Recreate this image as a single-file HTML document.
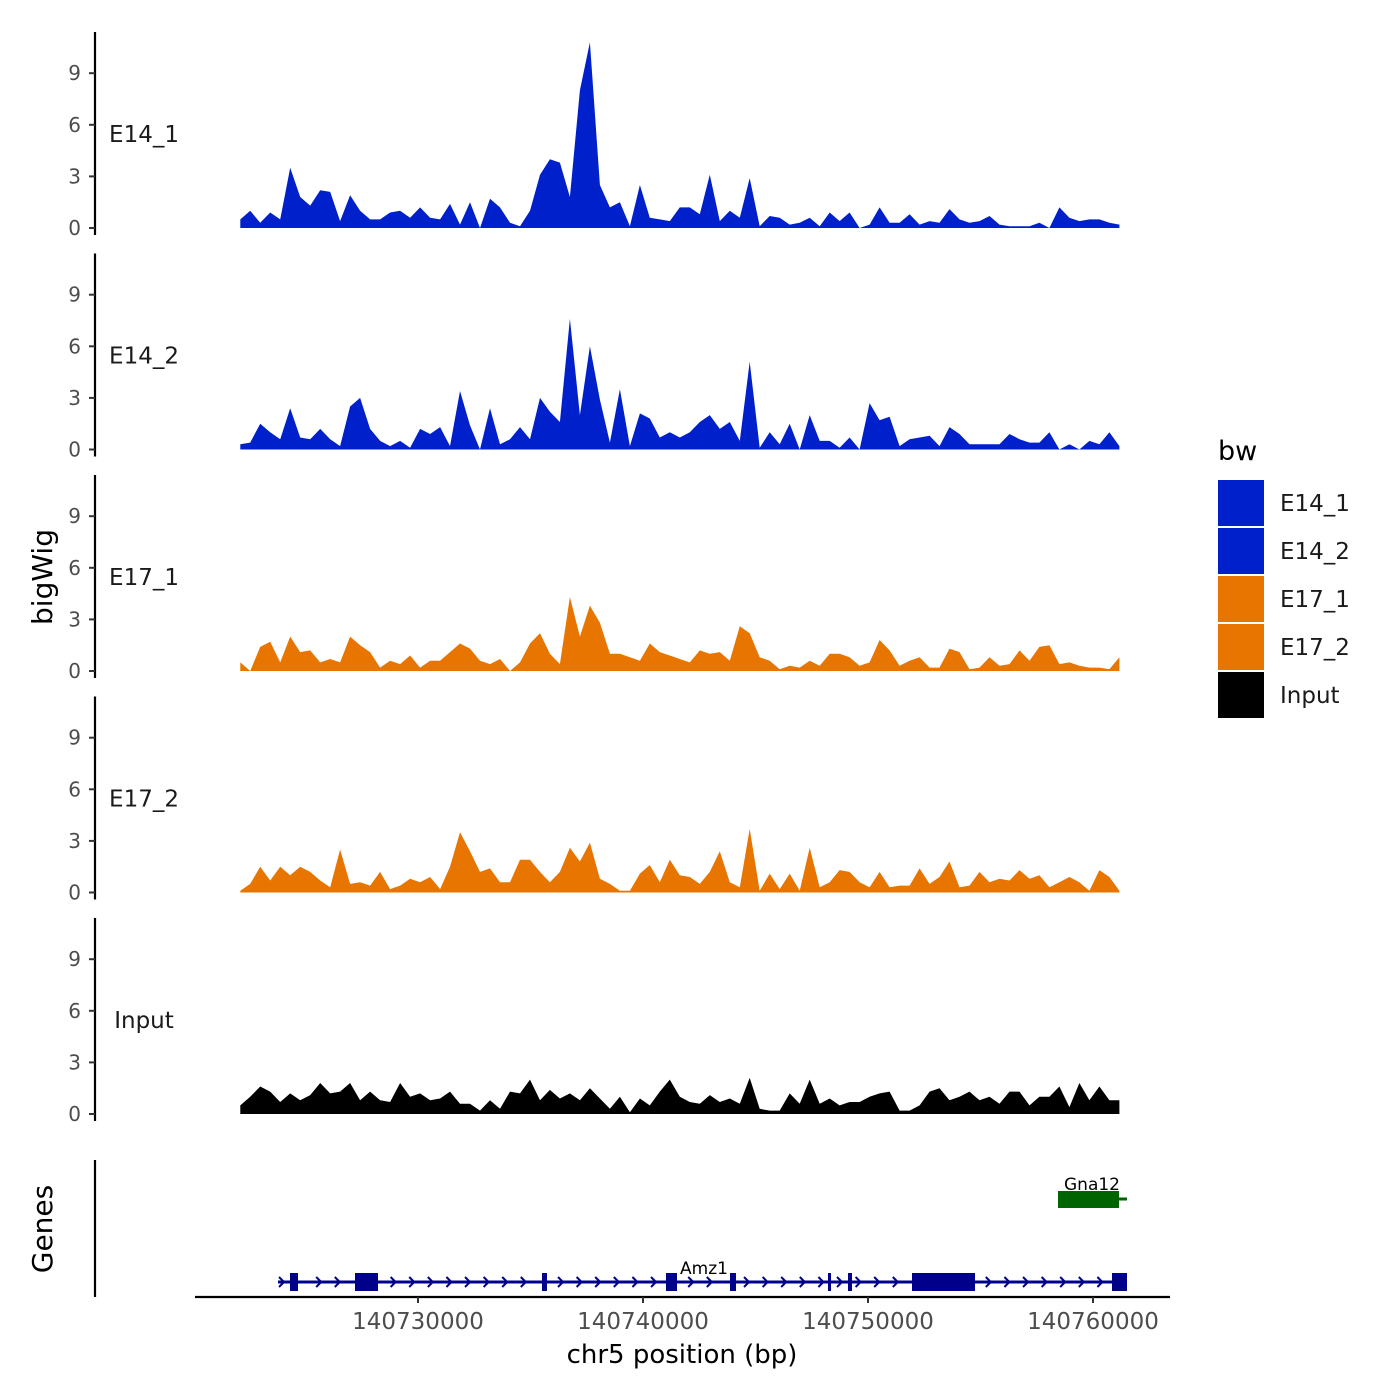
<!DOCTYPE html>
<html><head><meta charset="utf-8"><style>
html,body{margin:0;padding:0;background:#fff}
svg{display:block}
text{font-family:"DejaVu Sans","Liberation Sans",sans-serif}
</style></head><body>
<svg id="chart" width="1400" height="1400" viewBox="0 0 1400 1400" xmlns="http://www.w3.org/2000/svg">
<g id="panels"></g>
<g id="genes"></g>
<g id="xaxis"></g>
<text x="52" y="577" font-size="28" text-anchor="middle" transform="rotate(-90 52 577)" fill="#000">bigWig</text>
<text x="52" y="1229" font-size="28" text-anchor="middle" transform="rotate(-90 52 1229)" fill="#000">Genes</text>
<text x="682" y="1363" font-size="26" text-anchor="middle" fill="#000">chr5 position (bp)</text>
<g id="legend"></g>
</svg>
<script>
const trackNames = ["E14_1","E14_2","E17_1","E17_2","Input"];
const trackColors = ["#0020CC","#0020CC","#E87500","#E87500","#000000"];
const yTicks = [0,3,6,9];
const xTicks = [140730000,140740000,140750000,140760000];
const binStart = 140722100;
const binSize = 444;
const e14_1 = [0.5,1.0,0.3,0.9,0.5,3.5,1.8,1.3,2.2,2.1,0.4,1.9,1.0,0.5,0.5,0.9,1.0,0.6,1.2,0.6,0.5,1.4,0.2,1.5,0,1.7,1.2,0.3,0.1,1.0,3.1,4.0,3.8,1.8,8.0,10.8,2.5,1.2,1.5,0.1,2.5,0.6,0.5,0.4,1.2,
 1.2,0.8,3.1,0.4,1.0,0.6,2.9,0.1,0.7,0.6,0.2,0.3,0.6,0.1,0.9,0.4,0.9,0,0.2,1.2,0.3,0.3,0.8,0.2,0.4,0.3,1.1,0.5,0.3,0.4,0.7,0.2,0.1,0.1,0.1,0.3,0,1.2,0.6,0.4,0.5,0.5,0.3,0.2];
const e14_2 = [0.3,0.4,1.5,1.0,0.6,2.4,0.7,0.6,1.2,0.6,0.2,2.5,3.0,1.2,0.5,0.2,0.5,0.1,1.2,0.9,1.3,0.2,3.4,1.4,0,2.4,0.3,0.6,1.3,0.6,3.0,2.2,1.6,7.6,2.0,6.0,2.9,0.4,3.5,0.2,2.1,1.8,0.7,1.0,0.7,
 1.0,1.6,2.0,1.2,1.6,0.5,5.1,0.1,1.0,0.3,1.5,0,2.0,0.5,0.5,0.1,0.7,0,2.7,1.7,1.9,0.2,0.6,0.7,0.8,0.2,1.3,0.9,0.3,0.3,0.3,0.3,0.9,0.6,0.4,0.4,1.0,0,0.3,0.0,0.5,0.3,1.0,0.2];
const e17_1 = [0.5,0,1.4,1.7,0.5,2.0,1.1,1.2,0.5,0.7,0.5,2.0,1.5,1.1,0.2,0.6,0.4,0.9,0.2,0.6,0.6,1.1,1.6,1.3,0.6,0.4,0.7,0,0.5,1.6,2.2,1.0,0.4,4.3,2.0,3.8,2.8,1.0,1.0,0.8,0.6,1.6,1.1,0.9,0.7,
 0.5,1.2,1.0,1.1,0.6,2.6,2.2,0.8,0.6,0.1,0.3,0.2,0.6,0.3,1.0,1.0,0.8,0.3,0.5,1.8,1.2,0.3,0.6,0.8,0.2,0.2,1.3,1.1,0.1,0.2,0.8,0.3,0.4,1.2,0.6,1.4,1.5,0.4,0.5,0.3,0.2,0.2,0.1,0.8];
const e17_2 = [0.1,0.5,1.5,0.7,1.5,1.0,1.5,1.2,0.7,0.3,2.5,0.5,0.6,0.4,1.2,0.2,0.4,0.8,0.6,0.9,0.2,1.5,3.5,2.4,1.2,1.4,0.6,0.6,1.9,1.9,1.2,0.6,1.2,2.6,1.8,2.9,0.8,0.5,0.1,0.1,1.1,1.6,0.6,1.9,1.0,
 0.9,0.5,1.2,2.4,0.6,0.3,3.7,0.1,1.1,0.2,1.1,0.1,2.6,0.3,0.6,1.3,1.2,0.6,0.3,1.2,0.3,0.4,0.4,1.4,0.5,0.9,1.8,0.3,0.4,1.2,0.6,0.8,0.7,1.3,0.8,1.0,0.3,0.6,0.9,0.6,0.1,1.3,0.9,0.1];
const input = [0.5,1.0,1.6,1.3,0.7,1.2,0.8,1.1,1.8,1.2,1.3,1.8,0.8,1.3,0.8,0.7,1.8,1.0,1.2,0.8,0.9,1.3,0.6,0.6,0.2,0.8,0.3,1.3,1.2,2.0,0.8,1.4,0.9,1.2,0.8,1.5,0.9,0.3,1.0,0.1,0.9,0.5,1.3,2.0,1.0,
 0.7,0.6,1.1,0.7,0.9,0.6,2.1,0.3,0.2,0.2,1.2,0.6,2.0,0.6,0.9,0.5,0.7,0.7,1.0,1.2,1.3,0.2,0.2,0.5,1.3,1.5,0.8,1.0,1.3,0.8,1.0,0.6,1.3,1.3,0.5,1.0,1.0,1.6,0.4,1.8,0.8,1.6,0.8,0.8];
const trackValues = [e14_1,e14_2,e17_1,e17_2,input];
const amz1Start = 140723778, amz1End = 140761511;
const amz1ExonStarts = [140724311,140727200,140735511,140741022,140743867,140748222,140749111,140751956,140760844];
const amz1ExonEnds   = [140724667,140728222,140735733,140741511,140744133,140748356,140749289,140754756,140761511];
const gna12Start = 140758444, gna12ExonEnd = 140761156, gna12End = 140761511;

const NS="http://www.w3.org/2000/svg";
function el(tag, attrs, parent){const e=document.createElementNS(NS,tag);for(const k in attrs)e.setAttribute(k,attrs[k]);parent.appendChild(e);return e;}
function xScale(bp){return 418+(bp-140730000)*0.0225;}
const unitPx = 17.2;
const zeroYs = [228,449.5,671,892.5,1114];
function yScale(i,v){return zeroYs[i]-v*unitPx;}

const panels=document.getElementById('panels');
trackNames.forEach((name,i)=>{
  const g=el('g',{},panels);
  
  
  const ax=el('line',{x1:95,x2:95,y1:zeroYs[i]-196,y2:zeroYs[i]+7,stroke:'#000','stroke-width':2.2},g);
  
  
  yTicks.forEach(t=>{
    const y=yScale(i,t);
    const tk=el('line',{x1:89,x2:95,y1:y,y2:y,stroke:'#333','stroke-width':2},g);
    
    
    const tl=el('text',{x:81,y:y+7,'font-size':20,'text-anchor':'end',fill:'#4d4d4d'},g);
    tl.textContent=t;
    
    
  });
  const lab=el('text',{x:144,y:zeroYs[i]-86,'font-size':23,'text-anchor':'middle',fill:'#1a1a1a'},g);
  lab.textContent=name;
  
  
  const vals=trackValues[i];
  let d='M'+xScale(binStart).toFixed(1)+','+zeroYs[i];
  vals.forEach((v,j)=>{d+=' L'+xScale(binStart+j*binSize).toFixed(1)+','+yScale(i,v).toFixed(1);});
  d+=' L'+xScale(binStart+(vals.length-1)*binSize).toFixed(1)+','+zeroYs[i]+' Z';
  const area=el('path',{d:d,fill:trackColors[i],stroke:'none'},g);
  
  
});

const gg=document.getElementById('genes');
const gax=el('line',{x1:95,x2:95,y1:1160,y2:1297,stroke:'#000','stroke-width':2.2},gg);


const gy=1282;
const amz=el('g',{},gg);


el('line',{x1:xScale(amz1Start),x2:xScale(amz1End),y1:gy,y2:gy,stroke:'#00008B','stroke-width':3},amz);
for(let x=xScale(amz1Start)+4;x<xScale(amz1End)-3;x+=18.6){
  const bp=140730000+(x-418)/0.0225;
  let inEx=false;
  for(let k=0;k<amz1ExonStarts.length;k++){ if(bp>amz1ExonStarts[k]-150&&bp<amz1ExonEnds[k]+150) inEx=true; }
  if(inEx) continue;
  el('path',{d:`M${x-3},${gy-5} L${x+2},${gy} L${x-3},${gy+5}`,stroke:'#00008B','stroke-width':2,fill:'none'},amz);
}
amz1ExonStarts.forEach((s,k)=>{
  const r=el('rect',{x:xScale(s),y:gy-9,width:Math.max(2,xScale(amz1ExonEnds[k])-xScale(s)),height:18,fill:'#00008B'},amz);
  
  
});
const al=el('text',{x:704,y:1274,'font-size':17,'text-anchor':'middle',fill:'#000'},amz);
al.textContent='Amz1';


const gna=el('g',{},gg);


el('line',{x1:xScale(gna12Start),x2:xScale(gna12End),y1:1199,y2:1199,stroke:'#006400','stroke-width':3},gna);
el('rect',{x:xScale(gna12Start),y:1191,width:xScale(gna12ExonEnd)-xScale(gna12Start),height:17,fill:'#006400'},gna);
const gl=el('text',{x:1092,y:1190,'font-size':17,'text-anchor':'middle',fill:'#000'},gna);
gl.textContent='Gna12';



const xa=document.getElementById('xaxis');
el('line',{x1:195,x2:1170,y1:1297,y2:1297,stroke:'#000','stroke-width':2.2},xa);
xTicks.forEach(t=>{
  const x=xScale(t);
  const tk=el('line',{x1:x,x2:x,y1:1297,y2:1303,stroke:'#333','stroke-width':2},xa);
  
  
  const tl=el('text',{x:x,y:1329,'font-size':23,'text-anchor':'middle',fill:'#4d4d4d'},xa);
  tl.textContent=t;
  
  
});

const lg=document.getElementById('legend');
const lt=el('text',{x:1218,y:460,'font-size':27,fill:'#000'},lg);
lt.textContent='bw';


trackNames.forEach((n,i)=>{
  const y=480+i*48;
  const e=el('g',{},lg);
  
  
  el('rect',{x:1218,y:y,width:46,height:46,fill:trackColors[i]},e);
  const t=el('text',{x:1280,y:y+31,'font-size':23,fill:'#1a1a1a'},e);
  t.textContent=n;
});
</script>
</body></html>
